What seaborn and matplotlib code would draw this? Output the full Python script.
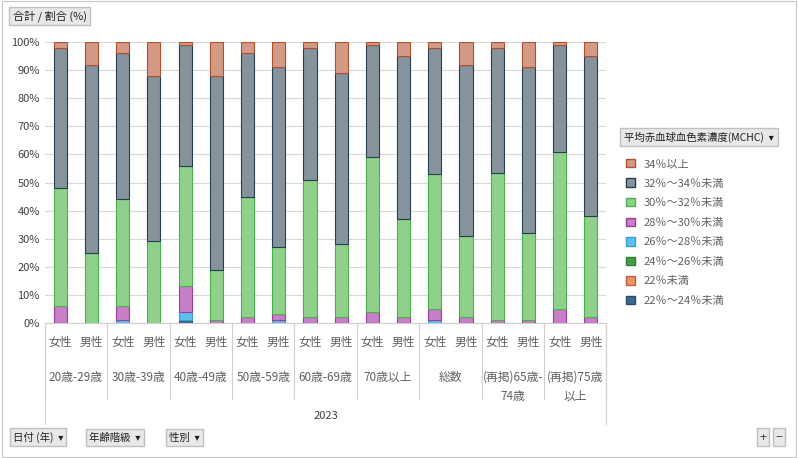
import numpy as np
import pandas as pd
import matplotlib
matplotlib.use("Agg")
import matplotlib.pyplot as plt
import matplotlib.patches as mpatches
import seaborn as sns

sns.set_style("white")
plt.rcParams['font.family'] = ['Noto Sans CJK JP', 'DejaVu Sans']

# data (% of each bar), bottom -> top
groups = ["20歳-29歳", "30歳-39歳", "40歳-49歳", "50歳-59歳", "60歳-69歳",
          "70歳以上", "総数", "(再掲)65歳-\n74歳", "(再掲)75歳\n以上"]
sexes = ["女性", "男性"]
series = ["22％～24％未満", "22％未満", "24％～26％未満", "26％～28％未満",
          "28％～30％未満", "30％～32％未満", "32％～34％未満", "34％以上"]
colors = ["#3b6a8c", "#e8946a", "#4c9a4c", "#5bc0eb", "#c77fc7", "#8fd08a", "#86939c", "#d49a86"]
edges = ["#1f4e6e", "#c0603a", "#2e7d32", "#3aa0d0", "#9b3d9b", "#4caf50", "#263f50", "#b0502e"]

v22_24 = [0, 0, 0, 0, 1, 0, 0, 0, 0, 0, 0, 0, 0, 0, 0, 0, 0, 0]
v22 = [0] * 18
v24_26 = [0] * 18
v26_28 = [0, 0, 1, 0, 3, 0, 0, 1, 0, 0, 0, 0, 1, 0, 0, 0, 0, 0]
v28_30 = [6, 0, 5, 0, 9, 1, 2, 2, 2, 2, 4, 2, 4, 2, 1, 1, 5, 2]
v30_32 = [42, 25, 38, 29, 43, 18, 43, 24, 49, 26, 55, 35, 48, 29, 52.5, 31, 56, 36]
v32_34 = [50, 67, 52, 59, 43, 69, 51, 64, 47, 61, 40, 58, 45, 61, 44.5, 59, 38, 57]
v34 = [2, 8, 4, 12, 1, 12, 4, 9, 2, 11, 1, 5, 2, 8, 2, 9, 1, 5]
values = [v22_24, v22, v24_26, v26_28, v28_30, v30_32, v32_34, v34]

fig = plt.figure(figsize=(7.98, 4.58), dpi=100)
ax = fig.add_axes([0.056, 0.295, 0.704, 0.613])
x = np.arange(18)
bottom = np.zeros(18)
handles = []
for name, vals, c, e in zip(series, values, colors, edges):
    vals = np.array(vals, dtype=float)
    ax.bar(x, vals, bottom=bottom, width=0.42, color=c, edgecolor=e, linewidth=0.8)
    bottom += vals
    handles.append(mpatches.Patch(facecolor=c, edgecolor=e, label=name))

ax.set_xlim(-0.5, 17.5)
ax.set_ylim(0, 100)
ax.set_yticks(range(0, 101, 10))
ax.set_yticklabels([f"{t}%" for t in range(0, 101, 10)], fontsize=8, color="#404040")
ax.yaxis.grid(True, color="#d9d9d9", linewidth=0.8)
ax.set_axisbelow(True)
ax.set_xticks([])
for s in ["top", "right", "left"]:
    ax.spines[s].set_visible(False)
ax.spines["bottom"].set_color("#d0d0d0")
ax.tick_params(axis="y", length=0)

tr = ax.get_xaxis_transform()
for i in range(18):
    ax.text(i, -0.07, sexes[i % 2], transform=tr, ha="center", va="center", fontsize=8.5, color="#606060")
for g, name in enumerate(groups):
    ax.text(2 * g + 0.5, -0.17, name, transform=tr, ha="center", va="top", fontsize=8.5,
            color="#606060", linespacing=1.6)
for g in range(10):
    ax.plot([2 * g - 0.5] * 2, [0, -0.27], transform=tr, color="#d0d0d0", lw=0.8, clip_on=False)
ax.plot([-0.5, -0.5], [0, -0.36], transform=tr, color="#d0d0d0", lw=0.8, clip_on=False)
ax.plot([17.5, 17.5], [0, -0.36], transform=tr, color="#d0d0d0", lw=0.8, clip_on=False)
ax.text(8.5, -0.33, "2023", transform=tr, ha="center", va="center", fontsize=8, color="#404040")

fig.text(0.016, 0.958, "合計 / 割合 (%)", fontsize=8, color="#202020",
         bbox=dict(boxstyle="square,pad=0.3", fc="#e8e8e8", ec="#c0c0c0"))
fig.text(0.782, 0.693, "平均赤血球血色素濃度(MCHC)  ▾", fontsize=7.5, color="#202020",
         bbox=dict(boxstyle="square,pad=0.35", fc="#e8e8e8", ec="#c0c0c0"))
fig.legend(handles=handles[::-1], loc="upper left", bbox_to_anchor=(0.772, 0.675),
           frameon=False, fontsize=8, labelcolor="#606060", handlelength=0.8,
           handleheight=0.8, labelspacing=0.85)

for xp, label in [(0.016, "日付 (年)  ▾"), (0.112, "年齢階級  ▾"), (0.212, "性別  ▾")]:
    fig.text(xp, 0.038, label, fontsize=7.5, color="#202020",
             bbox=dict(boxstyle="square,pad=0.3", fc="#e8e8e8", ec="#c0c0c0"))
fig.text(0.952, 0.038, "+", fontsize=9, color="#404040",
         bbox=dict(boxstyle="square,pad=0.2", fc="#e8e8e8", ec="#c0c0c0"))
fig.text(0.972, 0.038, "−", fontsize=9, color="#404040",
         bbox=dict(boxstyle="square,pad=0.2", fc="#e8e8e8", ec="#c0c0c0"))
fig.patches.append(mpatches.Rectangle((0.002, 0.002), 0.996, 0.996, transform=fig.transFigure,
                                      fill=False, ec="#c8c8c8", lw=0.8))

fig.savefig("out.png", dpi=100)
